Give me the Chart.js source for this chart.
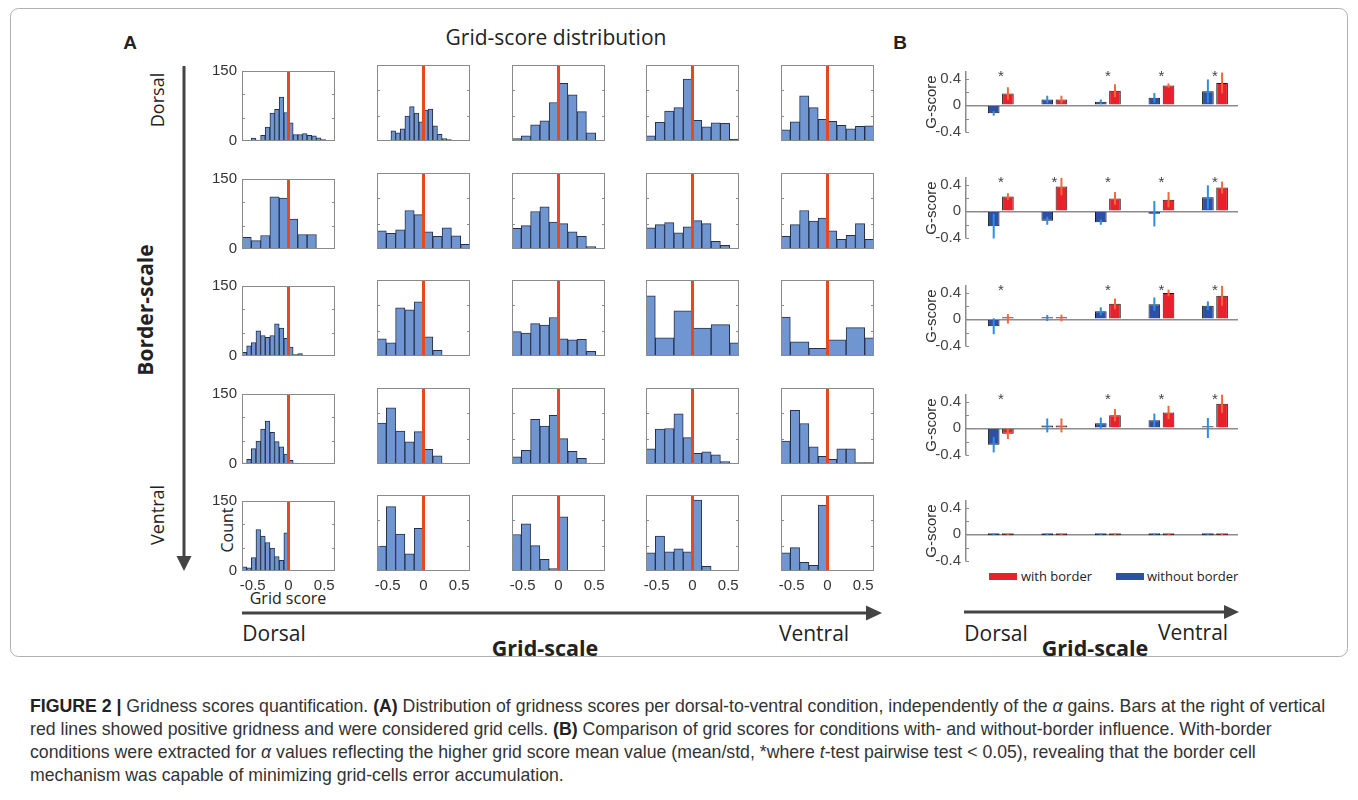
<!DOCTYPE html>
<html>
<head>
<meta charset="utf-8">
<script src="https://cdn.jsdelivr.net/npm/chart.js@4.4.1/dist/chart.umd.min.js"></script>
<style>
  html, body { margin: 0; padding: 0; background: #fff; }
  body { width: 1358px; height: 800px; position: relative; overflow: hidden; font-family: "Open Sans", "Noto Sans", sans-serif; color: #222; }
  .pos { position: absolute; white-space: nowrap; line-height: 1; }
  .c { transform: translate(-50%, -50%); }
  .v { transform: translate(-50%, -50%) rotate(-90deg); }
  canvas { display: block; }
  .caption { position: absolute; left: 30px; top: 694.5px; font: 17.7px/23px "Liberation Sans", Arial, sans-serif; color: #333; white-space: nowrap; }
  .caption b { color: #222; }
</style>
</head>
<body>
<svg width="1358" height="800" style="position:absolute;left:0;top:0">
  <rect x="10.5" y="8.5" width="1337" height="648" rx="8" fill="none" stroke="#b0b0b0" stroke-width="1"/>
  <line x1="184" y1="66" x2="184" y2="558" stroke="#444" stroke-width="3"/>
  <polygon points="176.5,556 191.5,556 184,571" fill="#444"/>
  <line x1="242" y1="613" x2="868" y2="613" stroke="#444" stroke-width="3"/>
  <polygon points="866,605.5 866,620.5 882,613" fill="#444"/>
  <line x1="964" y1="612" x2="1226" y2="612" stroke="#444" stroke-width="3"/>
  <polygon points="1224,605 1224,619 1239,612" fill="#444"/>
</svg>

<div class="pos c" style="left:130px;top:43px;font:bold 19px 'Liberation Sans',Arial,sans-serif;">A</div>
<div class="pos c" style="left:900px;top:43px;font:bold 19px 'Liberation Sans',Arial,sans-serif;">B</div>
<div class="pos c" style="left:556px;top:37px;font-size:21px;">Grid-score distribution</div>
<div class="pos v" style="left:157px;top:100px;font-size:18px;">Dorsal</div>
<div class="pos v" style="left:145px;top:310px;font-size:21px;font-weight:bold;">Border-scale</div>
<div class="pos v" style="left:157px;top:515px;font-size:18px;">Ventral</div>
<div class="pos v" style="left:227px;top:530px;font-size:16px;">Count</div>
<div class="pos c" style="left:288px;top:598px;font-size:16px;">Grid score</div>
<div class="pos c" style="left:274px;top:633px;font-size:21px;">Dorsal</div>
<div class="pos c" style="left:814px;top:633px;font-size:21px;">Ventral</div>
<div class="pos c" style="left:545px;top:648px;font-size:21.5px;font-weight:bold;">Grid-scale</div>
<div class="pos c" style="left:996px;top:633px;font-size:21px;">Dorsal</div>
<div class="pos c" style="left:1193px;top:632px;font-size:21px;">Ventral</div>
<div class="pos c" style="left:1095px;top:648px;font-size:21.5px;font-weight:bold;">Grid-scale</div>

<div class="pos" style="left:989px;top:573px;width:28px;height:7px;background:#e8222c"></div>
<div class="pos" style="left:1021px;top:576px;transform:translateY(-50%);font-size:13px;">with border</div>
<div class="pos" style="left:1116px;top:573px;width:28px;height:7px;background:#2d4fa6"></div>
<div class="pos" style="left:1147px;top:576px;transform:translateY(-50%);font-size:13px;">without border</div>

<div class="caption"><b>FIGURE 2 |</b> Gridness scores quantification. <b>(A)</b> Distribution of gridness scores per dorsal-to-ventral condition, independently of the <i>α</i> gains. Bars at the right of vertical<br>red lines showed positive gridness and were considered grid cells. <b>(B)</b> Comparison of grid scores for conditions with- and without-border influence. With-border<br>conditions were extracted for <i>α</i> values reflecting the higher grid score mean value (mean/std, *where <i>t</i>-test pairwise test &lt; 0.05), revealing that the border cell<br>mechanism was capable of minimizing grid-cells error accumulation.</div>

<script>
// ---- panel A: histogram data (rows dorsal->ventral border-scale, cols dorsal->ventral grid-scale)
const gridTicks = [-0.5, 0, 0.5];
const gridRange = [-0.65, 0.65];
const countTicks = [0, 150];
const countMarks = [50, 100];

const binWidth = [
    [0.065, 0.065, 0.13, 0.13, 0.13],
    [0.13, 0.13, 0.13, 0.13, 0.13],
    [0.065, 0.13, 0.13, 0.26, 0.26],
    [0.065, 0.13, 0.13, 0.13, 0.13],
    [0.065, 0.13, 0.13, 0.13, 0.13]
];
const binStart = [
    [-0.52, -0.52, -0.65, -0.65, -0.65],
    [-0.65, -0.65, -0.65, -0.65, -0.65],
    [-0.65, -0.65, -0.65, -0.78, -0.78],
    [-0.65, -0.65, -0.65, -0.65, -0.65],
    [-0.65, -0.65, -0.65, -0.65, -0.65]
];
const counts = [
    [
        [6, 2, 12, 30, 60, 68, 94, 61, 39, 14, 14, 16, 12, 11, 7, 3],
        [1, 20, 16, 24, 49, 68, 55, 38, 61, 63, 30, 13, 5, 3],
        [5, 10, 32, 40, 76, 114, 91, 58, 16],
        [10, 37, 59, 66, 122, 41, 28, 36, 35, 4],
        [22, 38, 89, 66, 43, 39, 31, 24, 29, 30]
    ],
    [
        [25, 18, 29, 112, 109, 64, 31, 31],
        [36, 31, 38, 76, 68, 34, 25, 42, 26, 9],
        [41, 46, 74, 83, 53, 50, 34, 25, 5],
        [42, 48, 52, 32, 44, 56, 50, 15, 7],
        [25, 48, 76, 55, 61, 36, 19, 27, 50, 19]
    ],
    [
        [8, 22, 29, 54, 44, 40, 44, 69, 60, 38, 19, 3, 5],
        [34, 26, 95, 91, 107, 38, 11],
        [48, 45, 64, 61, 76, 34, 32, 33, 9],
        [119, 36, 89, 55, 62, 26],
        [77, 28, 15, 32, 56, 36]
    ],
    [
        [2, 10, 33, 49, 75, 92, 68, 48, 37, 21, 8, 2],
        [81, 111, 65, 44, 64, 29, 16],
        [14, 27, 88, 75, 96, 50, 25, 11],
        [30, 69, 70, 99, 52, 21, 24, 18, 5],
        [45, 106, 80, 34, 15, 9, 30, 30, 3, 3]
    ],
    [
        [9, 7, 29, 89, 75, 61, 49, 31, 23, 82],
        [49, 127, 73, 34, 84],
        [72, 93, 50, 23, 5, 107],
        [36, 69, 38, 44, 38, 140, 9],
        [36, 46, 17, 11, 130]
    ]
];

// ---- panel B: G-score mean / std per grid-scale condition
const conditions = [1, 2, 3, 4, 5];
const scoreTicks = [-0.4, -0.2, 0, 0.2, 0.4];
const scoreLabels = [-0.4, 0, 0.4];
const starLevel = 0.42;
const withoutMean = [
    [-0.12, 0.088, 0.052, 0.112, 0.212],
    [-0.222, -0.141, -0.162, -0.036, 0.21],
    [-0.104, 0.02, 0.12, 0.228, 0.204],
    [-0.246, 0.044, 0.077, 0.121, 0.005],
    [0, 0, 0, 0, 0]
];
const withoutStd = [
    [0.035, 0.056, 0.036, 0.072, 0.176],
    [0.185, 0.06, 0.04, 0.19, 0.18],
    [0.12, 0.045, 0.06, 0.1, 0.065],
    [0.115, 0.105, 0.085, 0.1, 0.15],
    [0.01, 0.01, 0.01, 0.01, 0.01]
];
const withMean = [
    [0.176, 0.088, 0.22, 0.296, 0.336],
    [0.222, 0.372, 0.194, 0.174, 0.356],
    [0.008, 0.02, 0.232, 0.396, 0.352],
    [-0.081, 0.044, 0.198, 0.238, 0.368],
    [0, 0, 0, 0, 0]
];
const withStd = [
    [0.095, 0.056, 0.096, 0.032, 0.155],
    [0.05, 0.13, 0.095, 0.115, 0.09],
    [0.07, 0.05, 0.08, 0.05, 0.15],
    [0.08, 0.105, 0.09, 0.1, 0.137],
    [0.01, 0.01, 0.01, 0.01, 0.01]
];
const significant = [
    [1, 0, 1, 1, 1],
    [1, 1, 1, 1, 1],
    [1, 0, 1, 1, 1],
    [1, 0, 1, 1, 1],
    [0, 0, 0, 0, 0]
];

Chart.defaults.font.family = '"Liberation Sans", Arial, sans-serif';
Chart.defaults.color = '#333';
Chart.defaults.animation = false;

// box + inner tick marks (matlab look)
const framePlugin = {
    id: 'frame',
    afterDatasetsDraw(chart, args, opts) {
        const { ctx, chartArea: a, scales } = chart;
        ctx.save();
        ctx.strokeStyle = '#8a8a8a';
        ctx.lineWidth = 1;
        if (opts.box) ctx.strokeRect(a.left + 0.5, a.top + 0.5, a.right - a.left - 1, a.bottom - a.top - 1);
        (opts.marks || []).forEach(v => {
            const py = Math.round(scales.y.getPixelForValue(v)) + 0.5;
            ctx.beginPath();
            ctx.moveTo(a.left, py);
            ctx.lineTo(a.left + 3, py);
            if (opts.box) {
                ctx.moveTo(a.right - 3, py);
                ctx.lineTo(a.right, py);
            }
            ctx.stroke();
        });
        ctx.restore();
    }
};

// std error bars + significance stars
const errorPlugin = {
    id: 'errors',
    afterDatasetsDraw(chart, args, opts) {
        if (!opts.stars) return;
        const { ctx, scales: { x, y } } = chart;
        ctx.save();
        chart.data.datasets.forEach((ds, i) => {
            const meta = chart.getDatasetMeta(i);
            ctx.strokeStyle = ds.errorColor;
            ctx.lineWidth = 2;
            meta.data.forEach((bar, j) => {
                const m = ds.data[j].y, s = ds.errors[j];
                ctx.beginPath();
                ctx.moveTo(bar.x, y.getPixelForValue(m - s));
                ctx.lineTo(bar.x, y.getPixelForValue(m + s));
                ctx.stroke();
            });
        });
        ctx.fillStyle = '#444';
        ctx.font = '15px "Liberation Sans", Arial, sans-serif';
        ctx.textAlign = 'center';
        ctx.textBaseline = 'middle';
        opts.stars.forEach((s, j) => {
            if (s) ctx.fillText('*', x.getPixelForValue(conditions[j]), y.getPixelForValue(starLevel));
        });
        ctx.restore();
    }
};

Chart.register(framePlugin, errorPlugin);

function addCanvas(left, top, w, h) {
    const canvas = document.createElement('canvas');
    canvas.width = w;
    canvas.height = h;
    canvas.style.cssText = `position:absolute;left:${left}px;top:${top}px`;
    document.body.appendChild(canvas);
    return canvas;
}

const histLeft = 242, histPitchX = 134.8, histTop = 65, histPitchY = 107.5, histW = 93, histH = 76;

function drawHistogram(r, c) {
    const padL = 40, padT = 8, padR = 8, padB = 32;
    const canvas = addCanvas(Math.round(histLeft + c * histPitchX) - padL,
        Math.round(histTop + r * histPitchY) - padT,
        padL + histW + padR, padT + histH + padB);
    const w = binWidth[r][c], s = binStart[r][c];
    const bars = counts[r][c].map((n, i) => ({ x: s + (i + 0.5) * w, y: n }));

    new Chart(canvas, {
        type: 'bar',
        data: {
            datasets: [
                {
                    type: 'line',
                    data: [{ x: 0, y: countTicks[0] }, { x: 0, y: countTicks[1] }],
                    borderColor: '#e8481e',
                    borderWidth: 3,
                    pointRadius: 0,
                    order: 0
                },
                {
                    data: bars,
                    backgroundColor: '#7096d2',
                    borderColor: '#27304a',
                    borderWidth: 1,
                    barPercentage: 1,
                    categoryPercentage: 1,
                    order: 1
                }
            ]
        },
        options: {
            responsive: false,
            layout: { padding: { top: padT, right: padR } },
            plugins: {
                legend: { display: false },
                tooltip: { enabled: false },
                frame: { box: true, marks: countMarks }
            },
            scales: {
                x: {
                    type: 'linear',
                    min: gridRange[0],
                    max: gridRange[1],
                    offset: false,
                    grid: { display: false, drawTicks: false },
                    border: { display: false },
                    afterBuildTicks: sc => { sc.ticks = gridTicks.map(v => ({ value: v })); },
                    afterFit: sc => { sc.height = padB; },
                    ticks: { display: r === 4, padding: 6, font: { size: 15 }, callback: v => String(v) }
                },
                y: {
                    min: countTicks[0],
                    max: countTicks[1],
                    grid: { display: false, drawTicks: false },
                    border: { display: false },
                    afterBuildTicks: sc => { sc.ticks = countTicks.map(v => ({ value: v })); },
                    afterFit: sc => { sc.width = padL; },
                    ticks: { display: c === 0, padding: 5, font: { size: 15 } }
                }
            }
        }
    });
}

const scoreZero = [108, 214, 322, 431, 537];
const scoreLeft = 966, scoreW = 272, scoreH = 76;

function drawScores(r) {
    const padL = 44, padT = 8, padR = 6, padB = 4;
    const canvas = addCanvas(scoreLeft - padL,
        Math.round(scoreZero[r] - scoreH * 0.5 / 0.9) - padT,
        padL + scoreW + padR, padT + scoreH + padB);

    new Chart(canvas, {
        type: 'bar',
        data: {
            datasets: [
                {
                    label: 'without border',
                    data: conditions.map((x, i) => ({ x, y: withoutMean[r][i] })),
                    errors: withoutStd[r],
                    errorColor: '#2b8ee6',
                    backgroundColor: '#2d4fa6'
                },
                {
                    label: 'with border',
                    data: conditions.map((x, i) => ({ x, y: withMean[r][i] })),
                    errors: withStd[r],
                    errorColor: '#f2683a',
                    backgroundColor: '#e8222c'
                }
            ]
        },
        options: {
            responsive: false,
            layout: { padding: { top: padT, right: padR, bottom: padB } },
            datasets: {
                bar: {
                    borderColor: '#1a1a1a',
                    borderWidth: 1,
                    categoryPercentage: 0.53,
                    barPercentage: 0.82,
                    minBarLength: 2
                }
            },
            plugins: {
                legend: { display: false },
                tooltip: { enabled: false },
                frame: { box: false, marks: scoreTicks },
                errors: { stars: significant[r] }
            },
            scales: {
                x: {
                    type: 'linear',
                    min: 0.35,
                    max: 5.43,
                    offset: false,
                    display: false,
                    afterBuildTicks: sc => { sc.ticks = conditions.map(v => ({ value: v })); }
                },
                y: {
                    min: -0.4,
                    max: 0.5,
                    grid: {
                        drawTicks: false,
                        lineWidth: 1.5,
                        color: ctx => (ctx.tick && ctx.tick.value === 0 ? '#8c8c8c' : 'rgba(0,0,0,0)')
                    },
                    border: { display: true, color: '#8c8c8c', width: 1.5 },
                    afterBuildTicks: sc => { sc.ticks = scoreTicks.map(v => ({ value: v })); },
                    afterFit: sc => { sc.width = padL; },
                    title: { display: true, text: 'G-score', font: { size: 15 }, color: '#333', padding: 1 },
                    ticks: {
                        padding: 5,
                        font: { size: 15 },
                        color: '#444',
                        callback: v => (scoreLabels.includes(v) ? String(v) : '')
                    }
                }
            }
        }
    });
}

for (let r = 0; r < 5; r++) {
    for (let c = 0; c < 5; c++) drawHistogram(r, c);
    drawScores(r);
}
</script>
</body>
</html>
